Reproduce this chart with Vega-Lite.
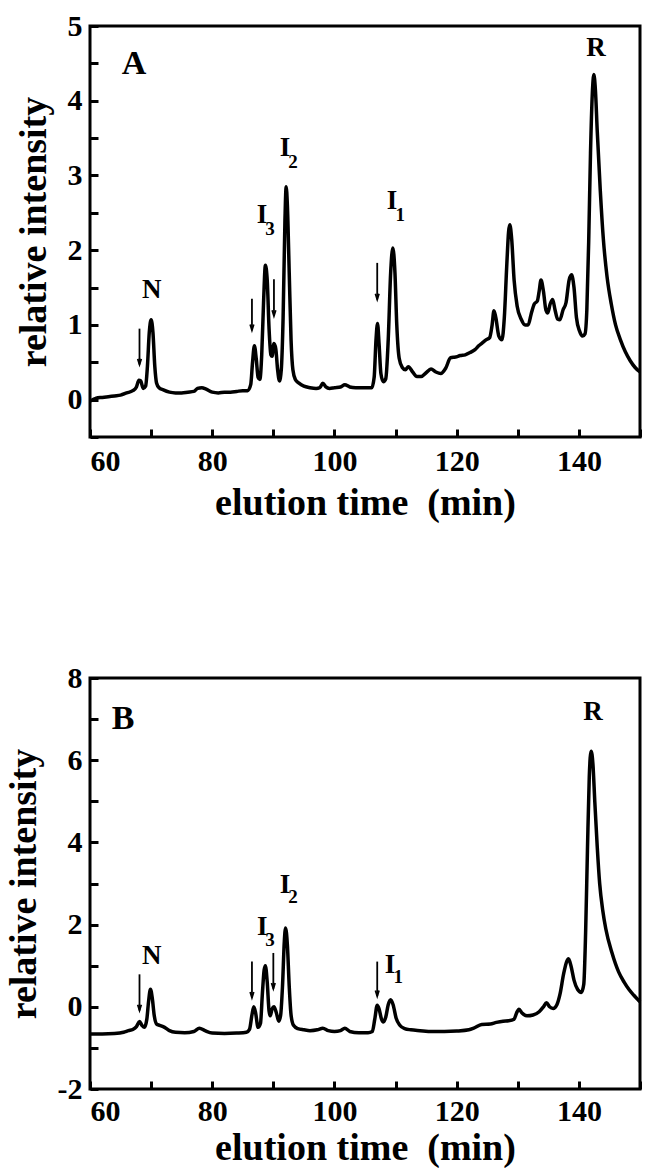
{
  "$schema": "https://vega.github.io/schema/vega-lite/v6.json",
  "background": "white",
  "padding": {"left": 3, "top": 9, "right": 8, "bottom": 1},
  "spacing": 137,
  "config": {
    "view": {"stroke": "black", "strokeWidth": 3},
    "font": "Liberation Serif",
    "axis": {
      "domain": false, "grid": false,
      "labelFont": "Liberation Serif", "labelFontWeight": "bold", "labelFontSize": 30, "labelColor": "black",
      "tickColor": "black", "tickWidth": 3, "tickSize": -8, "ticks": true,
      "titleFont": "Liberation Serif", "titleFontWeight": "bold", "titleFontSize": 38, "titleColor": "black"
    }
  },
  "datasets": {
    "curveA": [
      {"t":60,"v":-0.02},{"t":60.5,"v":0.0},{"t":61,"v":0.02},{"t":62,"v":0.03},{"t":63,"v":0.04},{"t":64,"v":0.05},{"t":65,"v":0.06},{"t":66,"v":0.09},{"t":67,"v":0.12},{"t":67.6,"v":0.17},{"t":68.0,"v":0.26},{"t":68.3,"v":0.25},{"t":68.7,"v":0.15},{"t":69.1,"v":0.18},{"t":69.4,"v":0.45},{"t":69.7,"v":0.9},{"t":70.0,"v":1.07},{"t":70.3,"v":0.9},{"t":70.6,"v":0.45},{"t":70.9,"v":0.22},{"t":71.3,"v":0.16},{"t":72,"v":0.13},{"t":73,"v":0.1},{"t":74,"v":0.09},{"t":75,"v":0.09},{"t":76,"v":0.1},{"t":77,"v":0.11},{"t":77.6,"v":0.15},{"t":78.3,"v":0.16},{"t":79,"v":0.14},{"t":80,"v":0.1},{"t":81,"v":0.09},{"t":82,"v":0.1},{"t":83,"v":0.1},{"t":84,"v":0.11},{"t":85,"v":0.12},{"t":85.8,"v":0.12},{"t":86.3,"v":0.2},{"t":86.6,"v":0.5},{"t":86.9,"v":0.72},{"t":87.2,"v":0.55},{"t":87.5,"v":0.3},{"t":87.8,"v":0.27},{"t":88.1,"v":0.6},{"t":88.4,"v":1.3},{"t":88.7,"v":1.8},{"t":89.0,"v":1.6},{"t":89.3,"v":0.95},{"t":89.6,"v":0.6},{"t":89.8,"v":0.58},{"t":90.1,"v":0.75},{"t":90.4,"v":0.68},{"t":90.7,"v":0.4},{"t":91.0,"v":0.25},{"t":91.3,"v":0.4},{"t":91.6,"v":1.1},{"t":91.9,"v":2.4},{"t":92.1,"v":2.85},{"t":92.3,"v":2.6},{"t":92.6,"v":1.7},{"t":92.9,"v":0.8},{"t":93.2,"v":0.4},{"t":93.6,"v":0.27},{"t":94.2,"v":0.22},{"t":95,"v":0.18},{"t":96,"v":0.16},{"t":97,"v":0.15},{"t":97.6,"v":0.16},{"t":98.1,"v":0.22},{"t":98.6,"v":0.17},{"t":99.2,"v":0.15},{"t":100,"v":0.16},{"t":101,"v":0.17},{"t":101.7,"v":0.2},{"t":102.5,"v":0.17},{"t":103.5,"v":0.16},{"t":105,"v":0.16},{"t":106.1,"v":0.16},{"t":106.5,"v":0.3},{"t":106.8,"v":0.8},{"t":107.05,"v":1.02},{"t":107.3,"v":0.75},{"t":107.6,"v":0.35},{"t":108.0,"v":0.24},{"t":108.4,"v":0.28},{"t":108.8,"v":0.8},{"t":109.2,"v":1.7},{"t":109.55,"v":2.03},{"t":109.9,"v":1.7},{"t":110.2,"v":1.0},{"t":110.6,"v":0.55},{"t":111.1,"v":0.43},{"t":111.6,"v":0.4},{"t":112.1,"v":0.44},{"t":112.8,"v":0.37},{"t":113.5,"v":0.31},{"t":114.2,"v":0.31},{"t":115.0,"v":0.36},{"t":115.8,"v":0.41},{"t":116.6,"v":0.37},{"t":117.4,"v":0.35},{"t":118.2,"v":0.42},{"t":119.0,"v":0.56},{"t":119.8,"v":0.57},{"t":120.6,"v":0.59},{"t":121.4,"v":0.6},{"t":122.2,"v":0.63},{"t":123.0,"v":0.67},{"t":123.6,"v":0.72},{"t":124.2,"v":0.76},{"t":124.8,"v":0.8},{"t":125.4,"v":0.83},{"t":125.8,"v":1.0},{"t":126.1,"v":1.19},{"t":126.4,"v":1.1},{"t":126.9,"v":0.85},{"t":127.4,"v":0.8},{"t":127.8,"v":1.1},{"t":128.2,"v":1.8},{"t":128.5,"v":2.25},{"t":128.7,"v":2.34},{"t":129.0,"v":2.15},{"t":129.4,"v":1.6},{"t":129.9,"v":1.25},{"t":130.6,"v":1.07},{"t":131.2,"v":1.0},{"t":131.7,"v":1.0},{"t":132.2,"v":1.15},{"t":132.7,"v":1.28},{"t":133.2,"v":1.32},{"t":133.5,"v":1.45},{"t":133.8,"v":1.6},{"t":134.2,"v":1.45},{"t":134.6,"v":1.2},{"t":134.9,"v":1.16},{"t":135.3,"v":1.28},{"t":135.7,"v":1.34},{"t":136.1,"v":1.2},{"t":136.5,"v":1.08},{"t":136.9,"v":1.07},{"t":137.4,"v":1.2},{"t":137.9,"v":1.3},{"t":138.4,"v":1.6},{"t":138.8,"v":1.67},{"t":139.2,"v":1.5},{"t":139.6,"v":1.1},{"t":140.1,"v":0.92},{"t":140.6,"v":0.85},{"t":141.0,"v":0.88},{"t":141.3,"v":1.2},{"t":141.6,"v":2.1},{"t":141.9,"v":3.3},{"t":142.2,"v":4.1},{"t":142.45,"v":4.35},{"t":142.7,"v":4.15},{"t":143.0,"v":3.6},{"t":143.5,"v":2.8},{"t":144.0,"v":2.15},{"t":144.6,"v":1.65},{"t":145.3,"v":1.28},{"t":146.0,"v":1.0},{"t":146.8,"v":0.8},{"t":147.6,"v":0.64},{"t":148.4,"v":0.52},{"t":149.2,"v":0.43},{"t":150,"v":0.37}
    ],
    "curveB": [
      {"t":60,"v":-0.66},{"t":62,"v":-0.66},{"t":64,"v":-0.65},{"t":65.5,"v":-0.62},{"t":66.3,"v":-0.58},{"t":67.0,"v":-0.55},{"t":67.6,"v":-0.48},{"t":68.1,"v":-0.36},{"t":68.5,"v":-0.45},{"t":68.9,"v":-0.5},{"t":69.3,"v":-0.3},{"t":69.6,"v":0.15},{"t":69.9,"v":0.43},{"t":70.2,"v":0.2},{"t":70.5,"v":-0.2},{"t":70.9,"v":-0.42},{"t":71.4,"v":-0.45},{"t":72.2,"v":-0.5},{"t":73,"v":-0.58},{"t":74,"v":-0.62},{"t":75.5,"v":-0.63},{"t":77,"v":-0.6},{"t":77.9,"v":-0.52},{"t":78.8,"v":-0.58},{"t":80,"v":-0.64},{"t":82,"v":-0.65},{"t":84,"v":-0.64},{"t":85.6,"v":-0.62},{"t":86.1,"v":-0.55},{"t":86.5,"v":-0.2},{"t":86.8,"v":0.0},{"t":87.1,"v":-0.15},{"t":87.5,"v":-0.5},{"t":87.9,"v":-0.4},{"t":88.2,"v":0.3},{"t":88.5,"v":0.9},{"t":88.7,"v":1.0},{"t":89.0,"v":0.6},{"t":89.3,"v":-0.1},{"t":89.5,"v":-0.22},{"t":89.8,"v":-0.05},{"t":90.1,"v":0.0},{"t":90.5,"v":-0.15},{"t":90.9,"v":-0.35},{"t":91.2,"v":-0.2},{"t":91.5,"v":0.5},{"t":91.8,"v":1.6},{"t":92.0,"v":1.92},{"t":92.3,"v":1.5},{"t":92.6,"v":0.5},{"t":92.9,"v":-0.2},{"t":93.3,"v":-0.45},{"t":94,"v":-0.53},{"t":95,"v":-0.56},{"t":96,"v":-0.58},{"t":97.2,"v":-0.56},{"t":98.1,"v":-0.52},{"t":99,"v":-0.58},{"t":100,"v":-0.6},{"t":101,"v":-0.58},{"t":101.7,"v":-0.52},{"t":102.5,"v":-0.6},{"t":104,"v":-0.63},{"t":105.5,"v":-0.63},{"t":106.2,"v":-0.6},{"t":106.6,"v":-0.3},{"t":107.0,"v":0.04},{"t":107.3,"v":-0.05},{"t":107.7,"v":-0.3},{"t":108.0,"v":-0.37},{"t":108.4,"v":-0.25},{"t":108.8,"v":0.05},{"t":109.2,"v":0.17},{"t":109.6,"v":0.05},{"t":110.1,"v":-0.28},{"t":110.7,"v":-0.45},{"t":111.5,"v":-0.53},{"t":112.5,"v":-0.56},{"t":114,"v":-0.58},{"t":116,"v":-0.6},{"t":118,"v":-0.6},{"t":120,"v":-0.59},{"t":122,"v":-0.56},{"t":122.8,"v":-0.52},{"t":124.1,"v":-0.43},{"t":125.5,"v":-0.42},{"t":126.5,"v":-0.38},{"t":127.6,"v":-0.35},{"t":128.5,"v":-0.34},{"t":129.4,"v":-0.3},{"t":129.8,"v":-0.15},{"t":130.2,"v":-0.06},{"t":130.7,"v":-0.15},{"t":131.5,"v":-0.22},{"t":132.5,"v":-0.2},{"t":133.5,"v":-0.12},{"t":134.2,"v":0.0},{"t":134.7,"v":0.1},{"t":135.2,"v":0.0},{"t":135.8,"v":-0.04},{"t":136.4,"v":0.05},{"t":136.9,"v":0.3},{"t":137.5,"v":0.8},{"t":138.0,"v":1.1},{"t":138.3,"v":1.17},{"t":138.7,"v":1.0},{"t":139.2,"v":0.65},{"t":139.8,"v":0.42},{"t":140.4,"v":0.35},{"t":140.8,"v":0.55},{"t":141.1,"v":1.8},{"t":141.4,"v":3.8},{"t":141.7,"v":5.6},{"t":142.0,"v":6.22},{"t":142.3,"v":5.9},{"t":142.6,"v":5.0},{"t":143.0,"v":3.9},{"t":143.4,"v":3.0},{"t":143.9,"v":2.35},{"t":144.4,"v":1.9},{"t":145.4,"v":1.32},{"t":146.5,"v":0.85},{"t":147.4,"v":0.6},{"t":148.2,"v":0.42},{"t":149.0,"v":0.28},{"t":149.5,"v":0.2},{"t":150,"v":0.12}
    ],
    "labelsA": [
      {"t":67.2,"v":4.36,"s":"A","k":"panel"},
      {"t":70.1,"v":1.36,"s":"N","k":"peak"},
      {"t":88.15,"v":2.36,"s":"I","k":"peak"},
      {"t":91.9,"v":3.26,"s":"I","k":"peak"},
      {"t":109.4,"v":2.55,"s":"I","k":"peak"},
      {"t":142.8,"v":4.6,"s":"R","k":"peak"}
    ],
    "subsA": [
      {"t":89.45,"v":2.2,"s":"3"},
      {"t":93.2,"v":3.1,"s":"2"},
      {"t":110.75,"v":2.39,"s":"1"}
    ],
    "arrowsA": [
      {"t":68.1,"top":0.95,"tip":0.47},
      {"t":86.5,"top":1.35,"tip":0.93},
      {"t":90.1,"top":1.61,"tip":1.12},
      {"t":107.0,"top":1.83,"tip":1.34}
    ],
    "labelsB": [
      {"t":65.4,"v":6.75,"s":"B","k":"panel"},
      {"t":70.1,"v":1.05,"s":"N","k":"peak"},
      {"t":88.2,"v":1.75,"s":"I","k":"peak"},
      {"t":91.9,"v":2.76,"s":"I","k":"peak"},
      {"t":109.1,"v":0.83,"s":"I","k":"peak"},
      {"t":142.3,"v":6.97,"s":"R","k":"peak"}
    ],
    "subsB": [
      {"t":89.45,"v":1.49,"s":"3"},
      {"t":93.2,"v":2.52,"s":"2"},
      {"t":110.45,"v":0.59,"s":"1"}
    ],
    "arrowsB": [
      {"t":68.1,"top":0.79,"tip":-0.09},
      {"t":86.5,"top":1.1,"tip":0.22},
      {"t":90.0,"top":1.31,"tip":0.44},
      {"t":107.0,"top":1.1,"tip":0.26}
    ]
  },
  "vconcat": [
    {
      "width": 550, "height": 411,
      "encoding": {
        "x": {"type": "quantitative", "scale": {"domain": [60, 150], "nice": false, "zero": false},
              "axis": {"values": [60,70,80,90,100,110,120,130,140,150], "labelExpr": "datum.value % 20 === 0 ? format(datum.value, 'd') : ''", "tickSize": -8, "labelPadding": 17, "title": "elution time \u00a0(min)", "titlePadding": 8}},
        "y": {"type": "quantitative", "scale": {"domain": [-0.5, 5], "nice": false, "zero": false},
              "axis": {"values": [-0.5,0,0.5,1,1.5,2,2.5,3,3.5,4,4.5,5], "labelExpr": "datum.value % 1 === 0 ? format(datum.value, 'd') : ''", "tickSize": -8, "labelPadding": 16, "title": "relative intensity", "titlePadding": 14}}
      },
      "layer": [
        {"data": {"name": "curveA"}, "mark": {"type": "line", "color": "black", "strokeWidth": 3.5, "interpolate": "monotone"},
         "encoding": {"x": {"field": "t"}, "y": {"field": "v"}}},
        {"data": {"name": "arrowsA"}, "mark": {"type": "rule", "color": "black", "strokeWidth": 1.8},
         "encoding": {"x": {"field": "t"}, "y": {"field": "top"}, "y2": {"field": "tip"}}},
        {"data": {"name": "arrowsA"}, "mark": {"type": "point", "shape": "M-0.5,-1.6L0,0L0.5,-1.6", "filled": false, "color": "black", "strokeWidth": 1.8, "size": 50, "opacity": 1},
         "encoding": {"x": {"field": "t"}, "y": {"field": "tip"}}},
        {"data": {"name": "labelsA"}, "mark": {"type": "text", "font": "Liberation Serif", "fontWeight": "bold", "fontSize": 27, "color": "black", "align": "center", "baseline": "alphabetic"},
         "encoding": {"x": {"field": "t"}, "y": {"field": "v"}, "text": {"field": "s"},
                      "size": {"condition": {"test": "datum.k === 'panel'", "value": 34}, "value": 27}}},
        {"data": {"name": "subsA"}, "mark": {"type": "text", "font": "Liberation Serif", "fontWeight": "bold", "fontSize": 19, "color": "black", "align": "center", "baseline": "alphabetic"},
         "encoding": {"x": {"field": "t"}, "y": {"field": "v"}, "text": {"field": "s"}}}
      ]
    },
    {
      "width": 550, "height": 411,
      "encoding": {
        "x": {"type": "quantitative", "scale": {"domain": [60, 150], "nice": false, "zero": false},
              "axis": {"values": [60,70,80,90,100,110,120,130,140,150], "labelExpr": "datum.value % 20 === 0 ? format(datum.value, 'd') : ''", "tickSize": -8, "labelPadding": 15, "title": "elution time \u00a0(min)", "titlePadding": 3}},
        "y": {"type": "quantitative", "scale": {"domain": [-2, 8], "nice": false, "zero": false},
              "axis": {"values": [-2,-1,0,1,2,3,4,5,6,7,8], "labelExpr": "datum.value % 2 === 0 ? (datum.value < 0 ? '-' + format(abs(datum.value), 'd') : format(datum.value, 'd')) : ''", "tickSize": -8, "labelPadding": 16, "title": "relative intensity", "titlePadding": 14}}
      },
      "layer": [
        {"data": {"name": "curveB"}, "mark": {"type": "line", "color": "black", "strokeWidth": 3.5, "interpolate": "monotone"},
         "encoding": {"x": {"field": "t"}, "y": {"field": "v"}}},
        {"data": {"name": "arrowsB"}, "mark": {"type": "rule", "color": "black", "strokeWidth": 1.8},
         "encoding": {"x": {"field": "t"}, "y": {"field": "top"}, "y2": {"field": "tip"}}},
        {"data": {"name": "arrowsB"}, "mark": {"type": "point", "shape": "M-0.5,-1.6L0,0L0.5,-1.6", "filled": false, "color": "black", "strokeWidth": 1.8, "size": 50, "opacity": 1},
         "encoding": {"x": {"field": "t"}, "y": {"field": "tip"}}},
        {"data": {"name": "labelsB"}, "mark": {"type": "text", "font": "Liberation Serif", "fontWeight": "bold", "fontSize": 27, "color": "black", "align": "center", "baseline": "alphabetic"},
         "encoding": {"x": {"field": "t"}, "y": {"field": "v"}, "text": {"field": "s"},
                      "size": {"condition": {"test": "datum.k === 'panel'", "value": 34}, "value": 27}}},
        {"data": {"name": "subsB"}, "mark": {"type": "text", "font": "Liberation Serif", "fontWeight": "bold", "fontSize": 19, "color": "black", "align": "center", "baseline": "alphabetic"},
         "encoding": {"x": {"field": "t"}, "y": {"field": "v"}, "text": {"field": "s"}}}
      ]
    }
  ]
}
